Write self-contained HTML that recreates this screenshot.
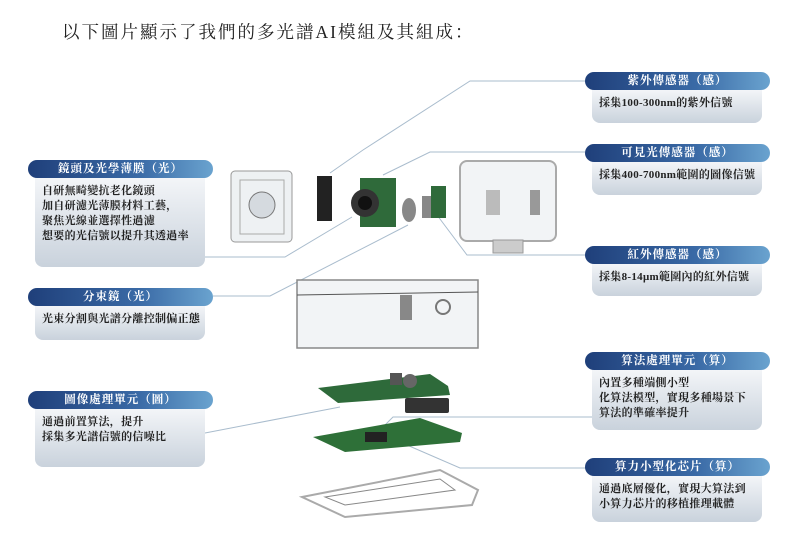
<!DOCTYPE html>
<html><head><meta charset="utf-8"><style>
body{margin:0;width:800px;height:551px;background:#fff;position:relative;overflow:hidden;font-family:"Liberation Serif","Noto Serif CJK SC",serif}
.t{position:absolute;left:62px;top:19px;font-size:17.5px;letter-spacing:2px;color:#222}
.h{position:absolute;height:18px;border-radius:9px;background:linear-gradient(90deg,#1f3f7a,#3a6aa6 60%,#6aa3cf);color:#fff;font-size:11.5px;font-weight:bold;text-align:center;line-height:18px;letter-spacing:1px}
.b{position:absolute;border-radius:0 0 8px 8px;background:linear-gradient(#f3f5f8,#c9d2dc);font-size:11px;font-weight:bold;color:#222;line-height:15px;padding:6px 7px;box-sizing:border-box;letter-spacing:.3px;white-space:nowrap}
svg{position:absolute;left:0;top:0}
</style></head><body>
<div class="t">以下圖片顯示了我們的多光譜AI模組及其組成：</div>
<svg width="800" height="551">
<g stroke="#a9bccd" stroke-width="1" fill="none">
<polyline points="205,257 285,257 352,217"/>
<polyline points="213,296 270,296 408,225"/>
<polyline points="205,433 340,407"/>
<polyline points="585,81 470,81 363,150 330,173"/>
<polyline points="585,152 430,152 383,175"/>
<polyline points="592,255 467,255 437,215"/>
<polyline points="592,417 393,417 377,433"/>
<polyline points="592,468 460,468 400,442"/>
</g>
<rect x="231" y="171" width="61" height="71" rx="4" fill="#eef1f3" stroke="#999"/>
<rect x="240" y="180" width="44" height="54" fill="none" stroke="#aaa"/>
<circle cx="262" cy="205" r="13" fill="#d5dadf" stroke="#777"/>
<rect x="317" y="176" width="15" height="45" fill="#222"/>
<rect x="360" y="178" width="36" height="49" fill="#2f6a3a"/>
<circle cx="365" cy="203" r="14" fill="#333"/>
<circle cx="365" cy="203" r="7" fill="#111"/>
<ellipse cx="409" cy="210" rx="7" ry="12" fill="#888"/>
<rect x="422" y="196" width="14" height="22" fill="#888"/>
<rect x="431" y="186" width="15" height="32" fill="#2f6a3a"/>
<rect x="460" y="161" width="96" height="80" rx="7" fill="#f2f4f6" stroke="#aaa" stroke-width="2"/>
<rect x="486" y="190" width="14" height="25" fill="#bbb"/>
<rect x="530" y="190" width="10" height="25" fill="#999"/>
<rect x="493" y="240" width="30" height="13" fill="#ccc" stroke="#999"/>
<rect x="297" y="280" width="181" height="68" fill="#f2f4f6" stroke="#888" stroke-width="1.5"/>
<line x1="297" y1="295" x2="478" y2="292" stroke="#555"/>
<rect x="400" y="295" width="12" height="25" fill="#888"/>
<circle cx="443" cy="307" r="7" fill="none" stroke="#777" stroke-width="2"/>
<polygon points="318,388 430,374 448,386 450,395 338,403" fill="#2e6a3a"/>
<rect x="390" y="373" width="12" height="12" fill="#555"/>
<circle cx="410" cy="381" r="7" fill="#666"/>
<rect x="405" y="398" width="44" height="15" rx="2" fill="#333"/>
<polygon points="313,437 420,418 462,433 460,442 345,452" fill="#2e7038"/>
<rect x="365" y="432" width="22" height="10" fill="#222"/>
<polygon points="302,497 440,470 478,490 472,505 345,517" fill="none" stroke="#aaa" stroke-width="2"/>
<polygon points="325,497 440,479 455,490 345,505" fill="none" stroke="#888" stroke-width="1"/>
</svg>
<div class="h" style="left:28px;top:160px;width:185px">鏡頭及光學薄膜（光）</div>
<div class="b" style="left:35px;top:178px;width:170px;height:89px">自研無畸變抗老化鏡頭<br>加自研濾光薄膜材料工藝，<br>聚焦光線並選擇性過濾<br>想要的光信號以提升其透過率</div>
<div class="h" style="left:28px;top:288px;width:185px">分束鏡（光）</div>
<div class="b" style="left:35px;top:306px;width:170px;height:34px">光束分割與光譜分離控制偏正態</div>
<div class="h" style="left:28px;top:391px;width:185px">圖像處理單元（圖）</div>
<div class="b" style="left:35px;top:409px;width:170px;height:58px">通過前置算法，提升<br>採集多光譜信號的信噪比</div>
<div class="h" style="left:585px;top:72px;width:185px">紫外傳感器（感）</div>
<div class="b" style="left:592px;top:90px;width:170px;height:33px">採集100-300nm的紫外信號</div>
<div class="h" style="left:585px;top:144px;width:185px">可見光傳感器（感）</div>
<div class="b" style="left:592px;top:162px;width:170px;height:33px">採集400-700nm範圍的圖像信號</div>
<div class="h" style="left:585px;top:246px;width:185px">紅外傳感器（感）</div>
<div class="b" style="left:592px;top:264px;width:170px;height:32px">採集8-14μm範圍內的紅外信號</div>
<div class="h" style="left:585px;top:352px;width:185px">算法處理單元（算）</div>
<div class="b" style="left:592px;top:370px;width:170px;height:60px">內置多種端側小型<br>化算法模型，實現多種場景下<br>算法的準確率提升</div>
<div class="h" style="left:585px;top:458px;width:185px">算力小型化芯片（算）</div>
<div class="b" style="left:592px;top:476px;width:170px;height:46px">通過底層優化，實現大算法到<br>小算力芯片的移植推理載體</div>
</body></html>
